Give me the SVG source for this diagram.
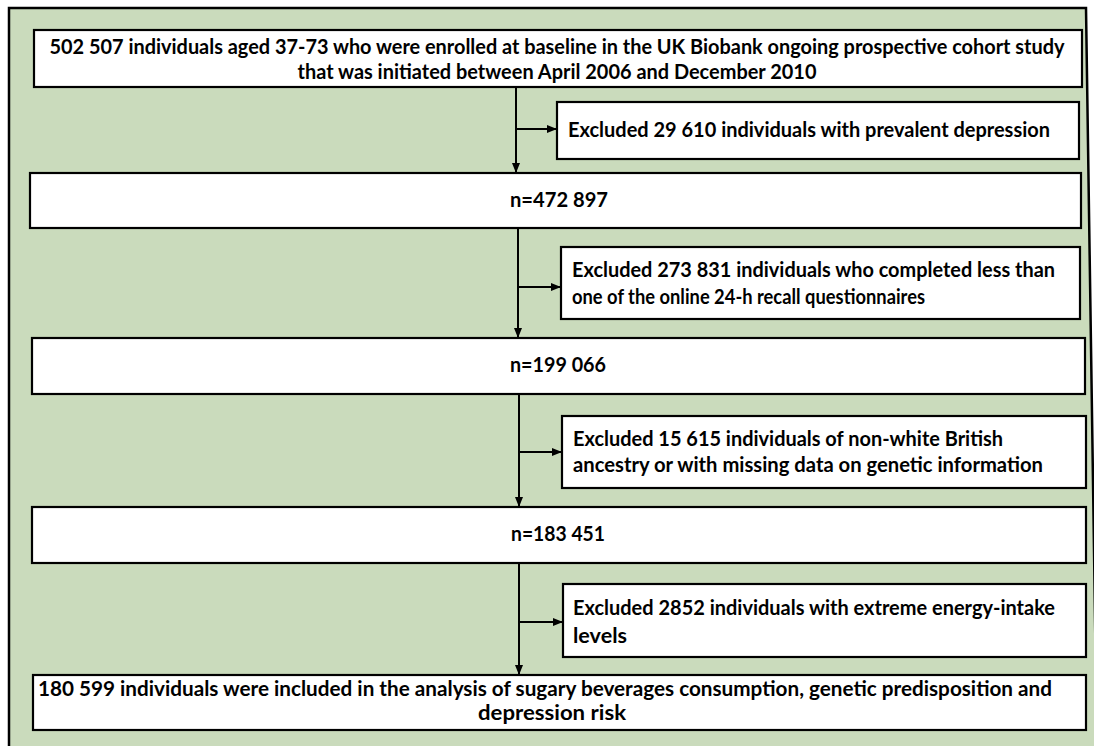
<svg xmlns="http://www.w3.org/2000/svg" width="1094" height="746" viewBox="0 0 1094 746">
<style>
.box{fill:#ffffff;stroke:#000000;stroke-width:2.2}
.t{font-family:Lato,"Open Sans","Liberation Sans",sans-serif;font-weight:bold;font-size:20px;fill:#000000}
.c{text-anchor:middle}
.ln{stroke:#000000;stroke-width:2;fill:none}
</style>
<defs>
<marker id="ah" markerWidth="10" markerHeight="10" refX="9" refY="5" orient="auto" markerUnits="userSpaceOnUse">
<path d="M0,1 L10,5 L0,9 Z" fill="#000000"/>
</marker>
</defs>
<rect x="0" y="0" width="1094" height="746" fill="#ffffff"/>
<path d="M9,752 L9,8 L1086,8 L1097,752 Z" fill="#cadbbc" stroke="#000000" stroke-width="2.5"/>
<g id="connectors">
<line class="ln" x1="516" y1="88" x2="516" y2="172" marker-end="url(#ah)"/>
<line class="ln" x1="516" y1="129" x2="556" y2="129" marker-end="url(#ah)"/>
<line class="ln" x1="518" y1="229" x2="518" y2="337" marker-end="url(#ah)"/>
<line class="ln" x1="518" y1="287" x2="560" y2="287" marker-end="url(#ah)"/>
<line class="ln" x1="519" y1="395" x2="519" y2="506" marker-end="url(#ah)"/>
<line class="ln" x1="519" y1="452" x2="561" y2="452" marker-end="url(#ah)"/>
<line class="ln" x1="519" y1="563" x2="519" y2="674" marker-end="url(#ah)"/>
<line class="ln" x1="519" y1="622" x2="562" y2="622" marker-end="url(#ah)"/>
</g>
<g id="n1">
<rect class="box" x="34" y="30" width="1048" height="57"/>
<text class="t c" x="557" y="54" textLength="1015" lengthAdjust="spacingAndGlyphs">502 507 individuals aged 37-73 who were enrolled at baseline in the UK Biobank ongoing prospective cohort study</text>
<text class="t c" x="557" y="79" textLength="519" lengthAdjust="spacingAndGlyphs">that was initiated between April 2006 and December 2010</text>
</g>
<g id="n2">
<rect class="box" x="557" y="102" width="522" height="57"/>
<text class="t" x="568" y="137" textLength="482" lengthAdjust="spacingAndGlyphs">Excluded 29 610 individuals with prevalent depression</text>
</g>
<g id="n3">
<rect class="box" x="30" y="173" width="1051" height="55"/>
<text class="t c" x="559" y="207" textLength="98" lengthAdjust="spacingAndGlyphs">n=472 897</text>
</g>
<g id="n4">
<rect class="box" x="561" y="247" width="519" height="72"/>
<text class="t" x="572" y="277" textLength="483" lengthAdjust="spacingAndGlyphs">Excluded 273 831 individuals who completed less than</text>
<text class="t" x="572" y="304" textLength="353" lengthAdjust="spacingAndGlyphs">one of the online 24-h recall questionnaires</text>
</g>
<g id="n5">
<rect class="box" x="32" y="338" width="1053" height="56"/>
<text class="t c" x="558" y="372" textLength="96" lengthAdjust="spacingAndGlyphs">n=199 066</text>
</g>
<g id="n6">
<rect class="box" x="562" y="416" width="524" height="72"/>
<text class="t" x="573" y="446" textLength="430" lengthAdjust="spacingAndGlyphs">Excluded 15 615 individuals of non-white British</text>
<text class="t" x="573" y="472" textLength="470" lengthAdjust="spacingAndGlyphs">ancestry or with missing data on genetic information</text>
</g>
<g id="n7">
<rect class="box" x="32" y="507" width="1054" height="56"/>
<text class="t c" x="558" y="541" textLength="94" lengthAdjust="spacingAndGlyphs">n=183 451</text>
</g>
<g id="n8">
<rect class="box" x="563" y="584" width="523" height="73"/>
<text class="t" x="573" y="615" textLength="482" lengthAdjust="spacingAndGlyphs">Excluded 2852 individuals with extreme energy-intake</text>
<text class="t" x="573" y="643" textLength="54" lengthAdjust="spacingAndGlyphs">levels</text>
</g>
<g id="n9">
<rect class="box" x="33" y="675" width="1053" height="55"/>
<text class="t c" x="545" y="696" textLength="1014" lengthAdjust="spacingAndGlyphs">180 599 individuals were included in the analysis of sugary beverages consumption, genetic predisposition and</text>
<text class="t c" x="552" y="720" textLength="148" lengthAdjust="spacingAndGlyphs">depression risk</text>
</g>
</svg>
